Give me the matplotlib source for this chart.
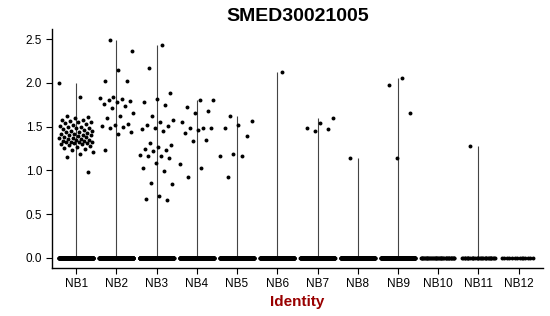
import matplotlib
matplotlib.use('Agg')
import matplotlib.pyplot as plt
import numpy as np

plt.rcParams['font.family'] = ['Liberation Sans', 'DejaVu Sans']

# cluster identities
groups = ['NB1', 'NB2', 'NB3', 'NB4', 'NB5', 'NB6',
          'NB7', 'NB8', 'NB9', 'NB10', 'NB11', 'NB12']

# expression values above zero
nonzero = {
    'NB1': [2.00, 1.84, 1.62, 1.61, 1.60, 1.58, 1.57, 1.56, 1.55, 1.55, 1.54,
            1.53, 1.52, 1.51, 1.50, 1.50, 1.49, 1.48, 1.47, 1.46, 1.45, 1.45,
            1.44, 1.44, 1.43, 1.42, 1.42, 1.41, 1.40, 1.40, 1.39, 1.38, 1.38,
            1.37, 1.37, 1.36, 1.36, 1.35, 1.35, 1.34, 1.34, 1.33, 1.33, 1.32,
            1.32, 1.31, 1.31, 1.30, 1.30, 1.29, 1.28, 1.27, 1.26, 1.25, 1.23,
            1.21, 1.19, 1.15, 0.98],
    'NB2': [2.49, 2.36, 2.15, 2.02, 2.02, 1.84, 1.83, 1.82, 1.80, 1.79, 1.78,
            1.76, 1.73, 1.71, 1.65, 1.62, 1.60, 1.53, 1.52, 1.51, 1.50, 1.49,
            1.44, 1.42, 1.23],
    'NB3': [2.43, 2.17, 1.88, 1.81, 1.78, 1.75, 1.62, 1.58, 1.55, 1.52, 1.51,
            1.49, 1.47, 1.45, 1.31, 1.29, 1.27, 1.25, 1.23, 1.22, 1.18, 1.17,
            1.16, 1.14, 1.08, 1.03, 0.99, 0.86, 0.85, 0.71, 0.67, 0.66],
    'NB4': [1.80, 1.80, 1.72, 1.68, 1.66, 1.55, 1.48, 1.48, 1.48, 1.46, 1.43,
            1.35, 1.34, 1.07, 1.03, 0.92],
    'NB5': [1.62, 1.56, 1.52, 1.48, 1.39, 1.19, 1.17, 1.16, 0.93],
    'NB6': [2.12],
    'NB7': [1.60, 1.54, 1.48, 1.47, 1.45],
    'NB8': [1.14],
    'NB9': [2.05, 1.98, 1.65, 1.14],
    'NB10': [],
    'NB11': [1.28],
    'NB12': [],
}
# cells with zero expression in each identity
zero_counts = [400, 400, 400, 350, 300, 300, 300, 250, 250, 40, 30, 14]

fig = plt.figure(figsize=(5.5, 3.16), dpi=100)
ax = fig.add_axes([0.0945, 0.152, 0.8925, 0.756])

phi = 0.6180339887
for i, g in enumerate(groups):
    pos = i + 1
    vals = nonzero[g] + [0.0] * zero_counts[i]
    # thin violin (almost all mass at zero) drawn as its spine
    if len(nonzero[g]) > 0:
        ax.vlines(pos, 0, max(vals), color='#444444', lw=0.8, zorder=1)
    # deterministic jitter, width 0.4 as in geom_jitter
    k = np.arange(len(vals)) + i * 7
    jit = ((k * phi) % 1.0 - 0.5) * 0.85
    ax.scatter(pos + jit, vals, s=8, color='black', linewidths=0, zorder=2)

ax.set_xlim(0.4, 12.6)
ax.set_ylim(-0.114, 2.614)
ax.set_xticks(range(1, len(groups) + 1))
ax.set_xticklabels(groups)
ax.set_yticks([0, 0.5, 1.0, 1.5, 2.0, 2.5])
ax.set_yticklabels(['0.0', '0.5', '1.0', '1.5', '2.0', '2.5'])
ax.tick_params(labelsize=8.5, length=4, width=0.8, colors='black', pad=3)

for side in ['top', 'right']:
    ax.spines[side].set_visible(False)
for side in ['left', 'bottom']:
    ax.spines[side].set_linewidth(1.0)

ax.set_xlabel('Identity', fontsize=11, fontweight='bold', color='#990000',
              labelpad=4)
ax.set_title('SMED30021005', fontsize=14, fontweight='bold', pad=6)

fig.savefig('out.png', dpi=100)
